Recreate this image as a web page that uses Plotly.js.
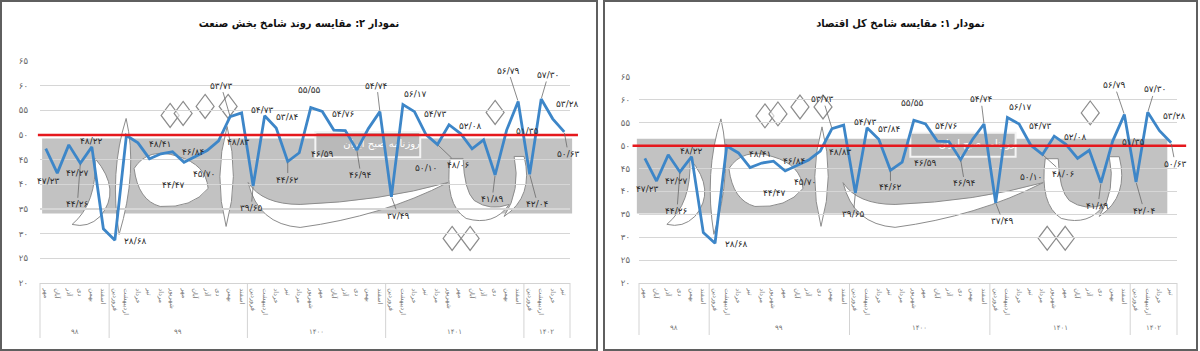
<!DOCTYPE html>
<html><head><meta charset="utf-8">
<script src="https://cdn.plot.ly/plotly-3.0.1.min.js"></script>
<style>
body{margin:0;background:#fff;width:1200px;height:351px;overflow:hidden;position:relative;font-family:'DejaVu Sans';}
.plot{position:absolute;top:0;}
.frame{position:absolute;top:0;box-sizing:border-box;border:2px solid #5f5f5f;pointer-events:none;}
</style></head><body>
<div id="p2" class="plot" style="left:0;width:598px;height:351px"></div>
<div id="p1" class="plot" style="left:603px;width:595px;height:351px"></div>
<div class="frame" style="left:0;width:598px;height:351px"></div>
<div class="frame" style="left:603px;width:595px;height:351px"></div>
<script>
// ---------- data ----------
const monthNames = ['فروردین','اردیبهشت','خرداد','تیر','مرداد','شهریور','مهر','آبان','آذر','دی','بهمن','اسفند'];
const months98 = ['مهر','آبان','آذر','دی','بهمن','اسفند'];
const months1402 = ['فروردین','اردیبهشت','خرداد','تیر'];
const years = ['۹۸','۹۹','۱۴۰۰','۱۴۰۱','۱۴۰۲'];
const yearMonths = [months98, monthNames, monthNames, monthNames, months1402];

const shamekh = [
  47.23, 42.27, 48.0, 44.26, 47.6, 31.0,
  28.68, 49.9, 48.41, 45.2, 46.2, 46.6, 44.47, 45.70, 46.84, 48.83, 53.73, 54.5,
  39.65, 53.9, 51.4, 44.62, 46.4, 55.55, 54.76, 51.0, 50.9, 46.94, 51.3, 54.74,
  37.49, 56.17, 54.73, 50.10, 48.06, 52.08, 50.3, 47.2, 49.0, 41.89, 51.0, 56.79,
  42.04, 57.30, 53.28, 50.63
];

const labelIndex = [0,1,3,4,6,8,12,13,14,15,16,18,19,20,21,22,23,24,27,29,30,31,32,33,34,35,39,40,41,42,43,44,45];
const labelText = ['۴۷/۲۳','۴۲/۲۷','۴۴/۲۶','۴۸/۲۲','۲۸/۶۸','۴۸/۴۱','۴۴/۴۷','۴۵/۷۰','۴۶/۸۴','۴۸/۸۳','۵۳/۷۳','۳۹/۶۵','۵۴/۷۳','۵۳/۸۴','۴۴/۶۲','۴۶/۵۹','۵۵/۵۵','۵۴/۷۶','۴۶/۹۴','۵۴/۷۴','۳۷/۴۹','۵۶/۱۷','۵۴/۷۳','۵۰/۱۰','۴۸/۰۶','۵۲/۰۸','۴۱/۸۹','۵۱/۳۵','۵۶/۷۹','۴۲/۰۴','۵۷/۳۰','۵۳/۲۸','۵۰/۶۳'];

const yTickVals = [20,25,30,35,40,45,50,55,60,65];
const yTickText = ['۲۰','۲۵','۳۰','۳۵','۴۰','۴۵','۵۰','۵۵','۶۰','۶۵'];
const threshold = 50;

// ---------- styling ----------
// label placement in px: dx, dy, leader line
const labelStyle = [
  [3,32,0],[20,0,0],[-3,41,1],[0,-6,0],[21,1,0],[22,1,0],[-11,23,0],[8,18,0],[-14,1,0],[20,1,0],
  [-9,-31,1],[-2,22,1],[-2,-6,0],[11,-11,0],[0,18,1],[23,1,0],[-1,-18,0],[21,2,0],[4,25,1],[-3,-26,1],
  [7,19,1],[13,-11,0],[21,2,0],[0,33,0],[21,20,1],[21,1,0],[-3,24,1],[21,1,0],[-10,-31,1],[8,30,1],
  [7,-24,1],[15,-15,0],[4,22,1]
];
// decorative logo watermark geometry, in band-local pixels (band = 530 x 75 px box)
const wmStrokes = [
  'M84,-20 Q96,32 77,96 Q67,34 84,-20 Z',
  'M53,20 Q80,52 58,78 Q46,90 30,86 Q55,65 53,20 Z',
  'M92,30 Q106,8 136,18 Q164,26 166,50 Q150,70 118,68 Q96,62 92,30 Z',
  'M185,-12 Q198,38 184,88 Q171,38 185,-12 Z',
  'M206,44 Q220,66 258,66 Q338,63 406,44 Q340,78 258,89 Q216,86 206,44 Z',
  'M408,20 Q402,66 424,80 Q452,88 467,66 Q448,73 432,62 Q422,52 421,20 Z',
  'M482,18 Q492,58 462,78 Q479,52 472,18 Z'
];
const wmDiamonds = [[128,-23],[141,-25],[163,-32],[186,-32],[453,-26],[410,100],[428,100]];

const monthLabels = yearMonths.flat();
const xIdx = monthLabels.map((_, i) => i);
const bounds = [-0.5];
yearMonths.forEach(m => bounds.push(bounds[bounds.length-1] + m.length));
const xRange = [-0.5, monthLabels.length - 0.5];
const toPaper = v => (v - xRange[0]) / (xRange[1] - xRange[0]);

function build(divId, cfg) {
  const plotH = cfg.height - cfg.margin.t - cfg.margin.b;
  const b = cfg.band;
  const mapPt = (px, py) => {
    const u = px / 530, v = 1 - py / 75;
    const paperX = b.x0 + u * (b.x1 - b.x0);
    const ix = xRange[0] + paperX * (xRange[1] - xRange[0]);
    const val = b.y0 + v * (b.y1 - b.y0);
    return ix.toFixed(3) + ',' + val.toFixed(3);
  };
  const tr = p => p.replace(/(-?\d+\.?\d*),(-?\d+\.?\d*)/g, (m, a, c) => mapPt(+a, +c));

  const shapes = [
    {type:'rect', xref:'paper', yref:'y', x0:b.x0, x1:b.x1, y0:b.y0, y1:b.y1,
     fillcolor:'#c2c2c2', line:{width:0}, layer:'below'},
    {type:'rect', xref:'x', yref:'y', x0:cfg.box.x0, x1:cfg.box.x1, y0:cfg.box.y0, y1:cfg.box.y1,
     fillcolor:'#b9b9b9', line:{color:'#f4f4f4', width:2}, layer:'below'}
  ];
  wmStrokes.forEach(p => shapes.push({type:'path', xref:'x', yref:'y', path:tr(p),
    fillcolor:'#ffffff', line:{color:'#8c8c8c', width:1}, layer:'below'}));
  wmDiamonds.forEach(([cx, cy]) => shapes.push({type:'path', xref:'x', yref:'y',
    path:tr(`M${cx},${cy-12} L${cx+9},${cy} L${cx},${cy+12} L${cx-9},${cy} Z`),
    fillcolor:'rgba(255,255,255,0.6)', line:{color:'#8c8c8c', width:1.2}, layer:'below'}));
  shapes.push({type:'line', xref:'paper', yref:'y', x0:cfg.red.x0, x1:cfg.red.x1, y0:threshold, y1:threshold,
     line:{color:'#e5181d', width:2.5}});
  bounds.forEach(bd => shapes.push({type:'line', xref:'paper', yref:'paper', x0:toPaper(bd), x1:toPaper(bd),
    y0:0, y1:-cfg.divDepth/plotH, line:{color:'#d3d3d3', width:1}}));

  const annotations = [];
  labelIndex.forEach((i, k) => {
    const [dx, dy, lead] = labelStyle[k];
    const font = {family:'DejaVu Sans', size:9, color:'#2b2b2b'};
    if (lead) {
      annotations.push({x:i, y:shamekh[i], xref:'x', yref:'y', text:labelText[k], showarrow:true,
        arrowhead:0, arrowwidth:0.8, arrowcolor:'#6a6a6a', ax:dx, ay:dy*cfg.ls, standoff:1, font});
    } else {
      annotations.push({x:i, y:shamekh[i], xref:'x', yref:'y', text:labelText[k], showarrow:false,
        xshift:dx, yshift:-dy*cfg.ls, font});
    }
  });
  years.forEach((y, k) => {
    annotations.push({x:(bounds[k]+bounds[k+1])/2, xref:'x', y:-cfg.yearY/plotH, yref:'paper', text:y,
      showarrow:false, font:{family:'DejaVu Sans', size:7, color:'#777'}, yanchor:'middle'});
  });

  const traces = [
    {x:[(cfg.box.x0+cfg.box.x1)/2 + 1.2], y:[(cfg.box.y0+cfg.box.y1)/2], mode:'text', text:['روزنامه صبح ایران'], hoverinfo:'skip',
     textfont:{family:'DejaVu Sans', size:10, color:'#ffffff'}},
    {x:xIdx, y:shamekh, mode:'lines', line:{color:'#3d86c8', width:2.8}, hoverinfo:'skip'}
  ];

  const layout = {
    width:cfg.width, height:cfg.height, margin:cfg.margin,
    paper_bgcolor:'#fff', plot_bgcolor:'#fff', showlegend:false,
    font:{family:'DejaVu Sans', color:'#333'},
    title:{text:'<b>'+cfg.title+'</b>', xref:'container', yref:'container', x:cfg.titleX, y:cfg.titleY,
      xanchor:'center', yanchor:'middle', font:{family:'DejaVu Sans Condensed, DejaVu Sans', size:11, color:'#111'}},
    xaxis:{range:xRange, tickvals:xIdx, ticktext:monthLabels, tickangle:90, showgrid:false, zeroline:false,
      showline:true, linecolor:'#d3d3d3', ticks:'', tickfont:{family:'DejaVu Sans', size:6.5, color:'#777'},
      ticklabelstandoff:3, fixedrange:true},
    yaxis:{range:[20,65], tickvals:yTickVals, ticktext:yTickText, showgrid:true, gridcolor:'#d6d6d6', gridwidth:1.2,
      zeroline:false, showline:false, ticks:'', tickfont:{family:'DejaVu Sans', size:8.5, color:'#666'},
      ticklabelstandoff:cfg.ystand, fixedrange:true},
    shapes, annotations
  };
  Plotly.newPlot(divId, traces, layout, {staticPlot:true, displayModeBar:false});
}

build('p2', {
  width:598, height:351, margin:{l:40, r:28, t:61, b:68},
  title:'نمودار ۲: مقایسه روند شامخ بخش صنعت', titleX:0.5, titleY:1-23/351,
  band:{x0:0.004, x1:1.004, y0:34.1, y1:49.3},
  box:{x0:23.4, x1:32.5, y0:45.5, y1:50.6},
  red:{x0:-0.004, x1:1.015},
  divDepth:55, yearY:49, ls:1, ystand:11
});
build('p1', {
  width:595, height:351, margin:{l:36, r:21, t:77, b:68},
  title:'نمودار ۱: مقایسه شامخ کل اقتصاد', titleX:0.5, titleY:1-23/351,
  band:{x0:-0.004, x1:0.982, y0:35.2, y1:51.5},
  box:{x0:22.7, x1:31.7, y0:47.6, y1:52.8},
  red:{x0:-0.012, x1:1.017},
  divDepth:52, yearY:45, ls:0.95, ystand:8
});
</script>
</body></html>
